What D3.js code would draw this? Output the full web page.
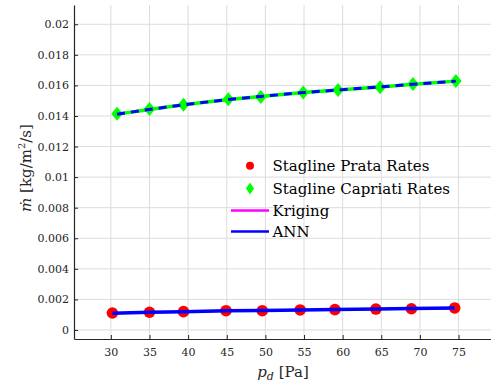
<!DOCTYPE html>
<html>
<head>
<meta charset="utf-8">
<script src="https://cdn.jsdelivr.net/npm/d3@7"></script>
</head>
<body style="margin:0; background:#fff">
<div id="chart"></div>
<script>
// points
const prataX = [30.2, 35.0, 39.4, 44.9, 49.6, 54.5, 59.0, 64.3, 68.9, 74.5]
const prataY = [0.00111, 0.00116, 0.00120, 0.00126, 0.00126, 0.00131, 0.00133, 0.00137, 0.00139, 0.00144]
const capX = [30.8, 35.0, 39.4, 45.2, 49.4, 54.9, 59.4, 64.85, 69.1, 74.65]
const capY = [0.01415, 0.01446, 0.01474, 0.01509, 0.01524, 0.01553, 0.0157, 0.01588, 0.01609, 0.01629]
// model curves
const krigLowY = [0.00109, 0.00115, 0.00119, 0.00124, 0.00127, 0.00130, 0.00133, 0.00136, 0.00139, 0.00142]
const annLowY = [0.00110, 0.00116, 0.00120, 0.00125, 0.00128, 0.00131, 0.00134, 0.00137, 0.00140, 0.00143]
const krigHighY = [0.01412, 0.01443, 0.01473, 0.01508, 0.01528, 0.01553, 0.01570, 0.01590, 0.01607, 0.01628]
const annHighY = [0.01412, 0.01443, 0.01473, 0.01508, 0.01528, 0.01553, 0.01570, 0.01590, 0.01607, 0.01628]

const xTicks = [30, 35, 40, 45, 50, 55, 60, 65, 70, 75]
const yTicks = [0, 0.002, 0.004, 0.006, 0.008, 0.01, 0.012, 0.014, 0.016, 0.018, 0.02]
const legendNames = ["Stagline Prata Rates", "Stagline Capriati Rates", "Kriging", "ANN"]

const FONT = "DejaVu Serif"
const W = 491, H = 385
const margin = { top: 5, right: 0, bottom: 46, left: 74 }
const width = W - margin.left - margin.right
const height = H - margin.top - margin.bottom

const svg = d3.select("#chart").append("svg")
    .attr("width", W)
    .attr("height", H)
    .attr("font-family", FONT)

const g = svg.append("g")
    .attr("transform", "translate(" + margin.left + "," + margin.top + ")")

const x = d3.scaleLinear().domain([25.23, 79.2]).range([0, width])
const y = d3.scaleLinear().domain([-0.00059, 0.02126]).range([height, 0])

// grid
g.append("g").selectAll("line").data(xTicks).join("line")
    .attr("x1", d => x(d)).attr("x2", d => x(d))
    .attr("y1", 0).attr("y2", height)
    .attr("stroke", "#dcdcdc").attr("stroke-width", 1)
g.append("g").selectAll("line").data(yTicks).join("line")
    .attr("y1", d => y(d)).attr("y2", d => y(d))
    .attr("x1", 0).attr("x2", width)
    .attr("stroke", "#dcdcdc").attr("stroke-width", 1)

// axes
const xAxis = g.append("g")
    .attr("transform", "translate(0," + height + ")")
    .call(d3.axisBottom(x).tickValues(xTicks).tickSize(-4).tickPadding(9).tickSizeOuter(0))
const yAxis = g.append("g")
    .call(d3.axisLeft(y).tickValues(yTicks).tickFormat(d => d === 0 ? "0" : String(+d.toFixed(3))).tickSize(-4).tickPadding(5).tickSizeOuter(0))
for (const a of [xAxis, yAxis]) {
    a.attr("font-family", FONT).attr("font-size", 11)
    a.select(".domain").attr("stroke", "#262626").attr("stroke-width", 1.2)
    a.selectAll(".tick line").attr("stroke", "#262626")
    a.selectAll(".tick text").attr("fill", "#262626")
}

// markers
g.append("g").selectAll("circle").data(prataX).join("circle")
    .attr("cx", d => x(d)).attr("cy", (d, i) => y(prataY[i]))
    .attr("r", 5.8).attr("fill", "#ff0000")

const diamond = (w, h) => "M0," + (-h / 2) + "L" + (w / 2) + ",0L0," + (h / 2) + "L" + (-w / 2) + ",0Z"
g.append("g").selectAll("path").data(capX).join("path")
    .attr("transform", (d, i) => "translate(" + x(d) + "," + y(capY[i]) + ")")
    .attr("d", diamond(11.5, 14)).attr("fill", "#00ff00")

// lines
const lineOf = (xs, ys) => d3.line().x((d, i) => x(xs[i])).y(d => y(d))(ys)
g.append("path").attr("d", lineOf(prataX, krigLowY))
    .attr("fill", "none").attr("stroke", "#ff00ff").attr("stroke-width", 2)
g.append("path").attr("d", lineOf(prataX, annLowY))
    .attr("fill", "none").attr("stroke", "#0000ff").attr("stroke-width", 3.5)
g.append("path").attr("d", lineOf(capX, krigHighY))
    .attr("fill", "none").attr("stroke", "#00ff00").attr("stroke-width", 3.5)
g.append("path").attr("d", lineOf(capX, annHighY))
    .attr("fill", "none").attr("stroke", "#0000ff").attr("stroke-width", 3)
    .attr("stroke-dasharray", "8,6")

// legend
const leg = svg.append("g")
const rowY = [165.7, 188.5, 210.5, 231.5]
leg.append("circle").attr("cx", 250).attr("cy", rowY[0]).attr("r", 4).attr("fill", "#ff0000")
leg.append("path").attr("transform", "translate(250," + rowY[1] + ")")
    .attr("d", diamond(8, 12)).attr("fill", "#00ff00")
leg.append("line").attr("x1", 231).attr("x2", 269).attr("y1", rowY[2]).attr("y2", rowY[2])
    .attr("stroke", "#ff00ff").attr("stroke-width", 2.5)
leg.append("line").attr("x1", 231).attr("x2", 269).attr("y1", rowY[3]).attr("y2", rowY[3])
    .attr("stroke", "#0000ff").attr("stroke-width", 2.5)
leg.selectAll("text").data(legendNames).join("text")
    .attr("x", 272.5).attr("y", (d, i) => rowY[i] + 5.5)
    .attr("font-family", FONT).attr("font-size", 15).attr("fill", "#000")
    .text(d => d)

// axis labels
const xl = svg.append("text")
    .attr("x", 283).attr("y", 377)
    .attr("text-anchor", "middle")
    .attr("font-family", FONT).attr("font-size", 15).attr("fill", "#262626")
xl.append("tspan").attr("font-style", "italic").text("p")
xl.append("tspan").attr("font-style", "italic").attr("font-size", 11).attr("dy", 3).text("d")
xl.append("tspan").attr("dy", -3).text(" [Pa]")

const yl = svg.append("text")
    .attr("transform", "translate(31,168) rotate(-90)")
    .attr("text-anchor", "middle")
    .attr("font-family", FONT).attr("font-size", 15).attr("fill", "#262626")
yl.append("tspan").attr("font-style", "italic").text("ṁ")
yl.append("tspan").text(" [kg/m")
yl.append("tspan").attr("font-size", 10).attr("dy", -6).text("2")
yl.append("tspan").attr("dy", 6).text("/s]")
</script>
</body>
</html>
